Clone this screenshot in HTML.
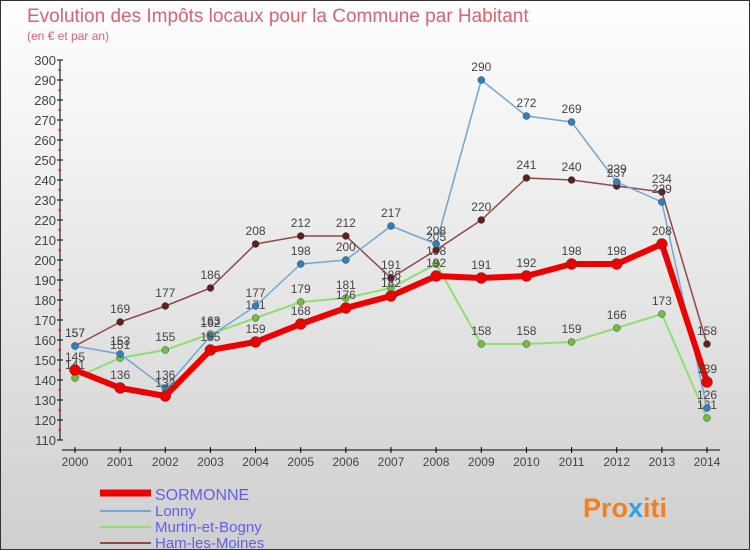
<!DOCTYPE html>
<html><head><meta charset="utf-8"><style>
body{margin:0;width:750px;height:550px;overflow:hidden;font-family:"Liberation Sans",sans-serif}
svg{display:block}
</style></head><body>
<svg id="c" width="750" height="550">
<defs><linearGradient id="bg" x1="0" y1="0" x2="0" y2="1"><stop offset="0" stop-color="#ffffff"/><stop offset="1" stop-color="#cfcfcf"/></linearGradient></defs>
<rect x="0.5" y="0.5" width="749" height="549" fill="url(#bg)" stroke="#333"/>
<text x="27" y="22" font-size="19" fill="#e06070">Evolution des Impôts locaux pour la Commune par Habitant</text>
<text x="27" y="40" font-size="12" fill="#e06070">(en € et par an)</text>
<g id="axes"></g><g id="series"></g><g id="legend"></g>
<text x="583" y="517" font-size="27" font-weight="bold" fill="#f08020">Pro<tspan fill="#30a0e0">x</tspan>iti</text>
</svg>
<script>
const years=["2000","2001","2002","2003","2004","2005","2006","2007","2008","2009","2010","2011","2012","2013","2014"];
const sormonne=[145,136,132,155,159,168,176,182,192,191,192,198,198,208,139];
const lonny=[157,153,136,162,177,198,200,217,208,290,272,269,239,229,126];
const murtin=[141,151,155,163,171,179,181,186,198,158,158,159,166,173,121];
const ham=[157,169,177,186,208,212,212,191,205,220,241,240,237,234,158];
const yTicks=[110,120,130,140,150,160,170,180,190,200,210,220,230,240,250,260,270,280,290,300];
const NS="http://www.w3.org/2000/svg";
const x=i=>75+i*(707-75)/14;
const y=v=>440-(v-110)*2;
function mk(t,a,p){const e=document.createElementNS(NS,t);for(const k in a)e.setAttribute(k,a[k]);p.appendChild(e);return e;}
const ax=document.getElementById('axes');
const yl=mk('line',{x1:60,y1:60,x2:60,y2:440,stroke:'#000'},ax);

yTicks.forEach(v=>{
 const t=mk('line',{x1:57,x2:63,y1:y(v),y2:y(v),stroke:'#000'},ax);
 
 if(v<300){const m=mk('line',{x1:58,x2:61,y1:y(v+5),y2:y(v+5),stroke:'#e00'},ax);}
 const l=mk('text',{x:56,y:y(v)+5,'text-anchor':'end','font-size':13,fill:'#444'},ax);l.textContent=v;
 
});
const xl=mk('line',{x1:62,y1:450,x2:720,y2:450,stroke:'#000'},ax);

years.forEach((yr,i)=>{
 const t=mk('line',{x1:x(i),x2:x(i),y1:447,y2:453,stroke:'#000'},ax);
 
 const l=mk('text',{x:x(i),y:466,'text-anchor':'middle','font-size':12,fill:'#444'},ax);l.textContent=yr;
 
});
const sg=document.getElementById('series');
const defs=[["murtin-et-bogny",murtin,'#90dd70','#70c040',2,3.5],["ham-les-moines",ham,'#904848','#602020',1.5,3.5],["lonny",lonny,'#70a8d0','#3080c0',1.5,3.5],["sormonne",sormonne,'#ee0000','#ee0000',6,5.5]];
defs.forEach(([n,d,c,pc,w,r])=>{
 const g=mk('g',{},sg);
 const p=mk('polyline',{points:d.map((v,i)=>x(i)+','+y(v)).join(' '),fill:'none',stroke:c,'stroke-width':w,'stroke-linejoin':'round'},g);
 
 d.forEach((v,i)=>{
  const ci=mk('circle',{cx:x(i),cy:y(v),r:r,fill:pc,stroke:'#444','stroke-width':0.5},g);
  
  const t=mk('text',{x:x(i),y:y(v)-9,'text-anchor':'middle','font-size':12,fill:'#444'},g);t.textContent=v;
  
 });
});
const lg=document.getElementById('legend');
const L=[["SORMONNE",'#ee0000',7,16],["Lonny",'#70a8d0',2,15],["Murtin-et-Bogny",'#90dd70',2,15],["Ham-les-Moines",'#904848',2,15]];
L.forEach(([t,c,w,fs],i)=>{
 const yy=492+i*16;
 const g=mk('g',{},lg);
 mk('line',{x1:100,x2:151,y1:yy+(i==0?1:3),y2:yy+(i==0?1:3),stroke:c,'stroke-width':w},g);
 const tx=mk('text',{x:155,y:yy+8,'font-size':fs,fill:'#6060ee'},g);tx.textContent=t;
});
</script>
</body></html>
